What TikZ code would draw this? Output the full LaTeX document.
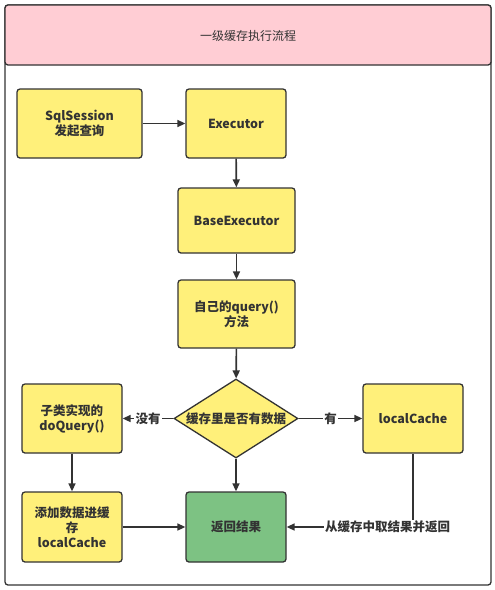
\documentclass[tikz,border=0pt]{standalone}
\usepackage{fontspec}
\setmainfont{Noto Sans CJK SC}
\usetikzlibrary{shapes.geometric,arrows.meta}
\definecolor{boxyellow}{HTML}{FFF07A}
\definecolor{boxgreen}{HTML}{7DC283}
\definecolor{titlepink}{HTML}{FFCDD4}
\definecolor{linegray}{HTML}{333333}
\tikzset{
  procbox/.style={draw=linegray, line width=1.3pt, fill=boxyellow, rounded corners=3pt, align=center, font=\bfseries\fontsize{12.5}{15}\selectfont, text=linegray},
  arr/.style={draw=linegray, line width=1.6pt, -{Triangle[length=8pt,width=7pt]}},
  lbl/.style={fill=white, inner sep=1pt, font=\bfseries\fontsize{12.5}{14}\selectfont, text=linegray}
}
\begin{document}
\begin{tikzpicture}[x=1pt,y=-1pt]
\useasboundingbox (0,0) rectangle (495,590);
% outer frame and title
\draw[draw=linegray, line width=1.3pt, fill=white, rounded corners=3pt] (5,5) rectangle (491,585);
\draw[draw=linegray, line width=1.3pt, fill=titlepink, rounded corners=3pt] (5,5) rectangle (491,65);
\node[font=\fontsize{12}{14}\selectfont, text=linegray] (title) at (248,36) {一级缓存执行流程};
% nodes
\node[procbox, minimum width=125pt, minimum height=69pt] (sql) at (79.5,123.5) {SqlSession\\发起查询};
\node[procbox, minimum width=100pt, minimum height=69pt] (exec) at (236,123.5) {Executor};
\node[procbox, minimum width=117pt, minimum height=65pt] (base) at (236.5,220.5) {BaseExecutor};
\node[procbox, minimum width=117pt, minimum height=68pt] (query) at (236.5,314) {自己的query()\\方法};
\node[diamond, aspect=1.57, draw=linegray, line width=1.3pt, fill=boxyellow, inner sep=0pt, minimum width=124pt, minimum height=79pt, font=\bfseries\fontsize{12.5}{14}\selectfont, text=linegray] (dec) at (236,418.5) {缓存里是否有数据};
\node[procbox, minimum width=100pt, minimum height=69pt] (local) at (413,418.5) {localCache};
\node[procbox, minimum width=100pt, minimum height=69pt] (sub) at (72,418.5) {子类实现的\\doQuery()};
\node[procbox, minimum width=100pt, minimum height=70pt] (add) at (72,527) {添加数据进缓\\存\\localCache};
\node[procbox, fill=boxgreen, minimum width=100pt, minimum height=70pt] (ret) at (236,527) {返回结果};
% connectors
\draw[arr] (sql) -- (exec);
\draw[arr] (exec) -- (base);
\draw[arr] (base) -- (query);
\draw[arr] (query) -- (dec);
\draw[arr] (dec) -- node[lbl]{没有} (sub);
\draw[arr] (dec) -- node[lbl]{有} (local);
\draw[arr] (dec) -- (ret);
\draw[arr] (sub) -- (add);
\draw[arr] (add) -- (ret);
\coordinate (corner) at (local.south |- ret.east);
\draw[arr] (local.south) -- (corner) -- node[lbl, pos=0.2]{从缓存中取结果并返回} (ret.east);
\end{tikzpicture}
\end{document}
